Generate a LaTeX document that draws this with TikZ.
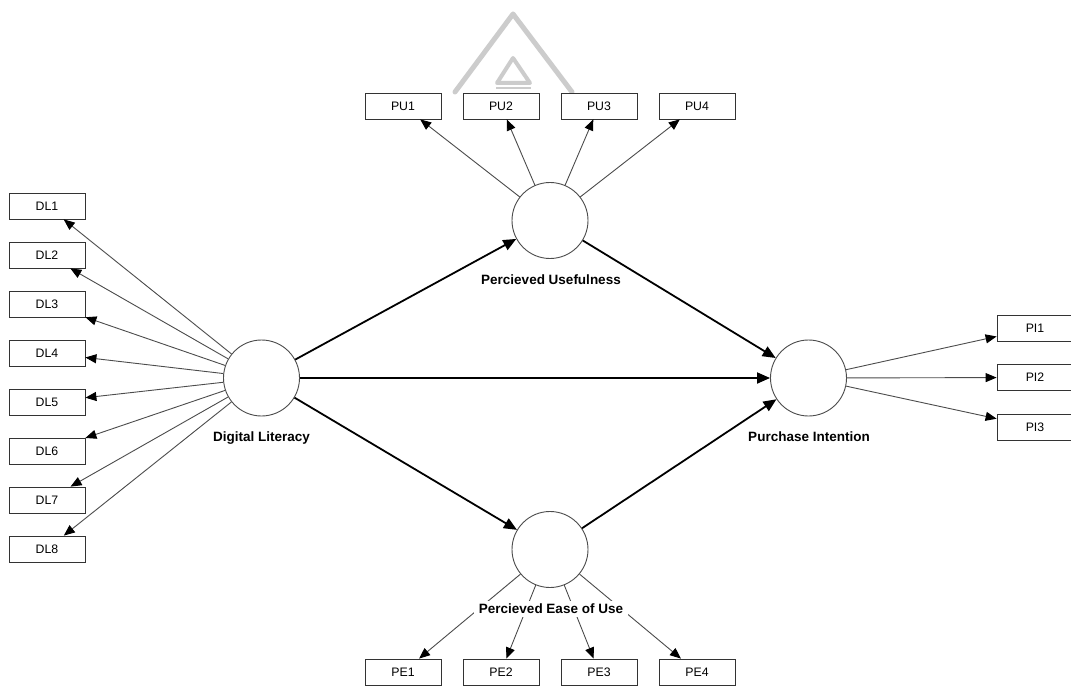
\documentclass[tikz,border=0pt]{standalone}
\usepackage{fontspec}
\setmainfont{Liberation Sans}
\usetikzlibrary{arrows.meta}
\begin{document}
\begin{tikzpicture}[x=1pt,y=-1pt,
  ind/.style={draw=black!80,line width=0.8pt,fill=white,minimum width=76pt,minimum height=26pt,inner sep=0pt,font=\fontsize{12.3}{14}\selectfont},
  lat/.style={circle,draw=black!70,line width=0.9pt,fill=white,minimum size=76pt,inner sep=0pt},
  lbl/.style={fill=white,inner xsep=5pt,inner ysep=3pt,font=\bfseries\fontsize{13.5}{16}\selectfont},
  thin/.style={draw=black!70,line width=0.9pt,-{Triangle[length=11pt,width=9pt,color=black]}},
  thick/.style={draw=black,line width=1.8pt,-{Triangle[length=13pt,width=11pt]}},
  wm/.style={draw=black!20,line width=5pt,line join=round,line cap=round}]
\fill[white] (0,0) rectangle (1071,687);
\useasboundingbox (0,0) rectangle (1071,687);
% watermark
\draw[wm] (455,92) -- (513,14) -- (572,92);
\draw[draw=black!20,line width=4pt,line join=round] (513,58) -- (530,83) -- (497,83) -- cycle;
\draw[draw=black!20,line width=2.5pt] (496,88) -- (531,88);
% latent variables
\node[lat] (DLc) at (261.5,378) {};
\node[lat] (PUc) at (550,220.5) {};
\node[lat] (PEc) at (550,549.5) {};
\node[lat] (PIc) at (808.5,378) {};
% indicators
\foreach \i in {1,...,8}{
  \node[ind] (DL\i) at (47,{206+49*(\i-1)}) {DL\i};
  \draw[thin] (DLc) -- (DL\i);
}
\foreach \i in {1,...,4}{
  \node[ind] (PU\i) at ({403+98*(\i-1)},106) {PU\i};
  \draw[thin] (PUc) -- (PU\i);
  \node[ind] (PE\i) at ({403+98*(\i-1)},672) {PE\i};
  \draw[thin] (PEc) -- (PE\i);
}
\foreach \i in {1,...,3}{
  \node[ind] (PI\i) at (1035,{328+49.5*(\i-1)}) {PI\i};
  \draw[thin] (PIc) -- (PI\i);
}
% structural paths
\draw[thick] (DLc) -- (PUc);
\draw[thick] (DLc) -- (PIc);
\draw[thick] (DLc) -- (PEc);
\draw[thick] (PUc) -- (PIc);
\draw[thick] (PEc) -- (PIc);
% labels
\node[lbl] (DLl) at (261.5,438) {Digital Literacy};
\node[lbl] (PUl) at (551,280) {Percieved Usefulness};
\node[lbl] (PEl) at (551,609) {Percieved Ease of Use};
\node[lbl] (PIl) at (809,437) {Purchase Intention};
\end{tikzpicture}
\end{document}
